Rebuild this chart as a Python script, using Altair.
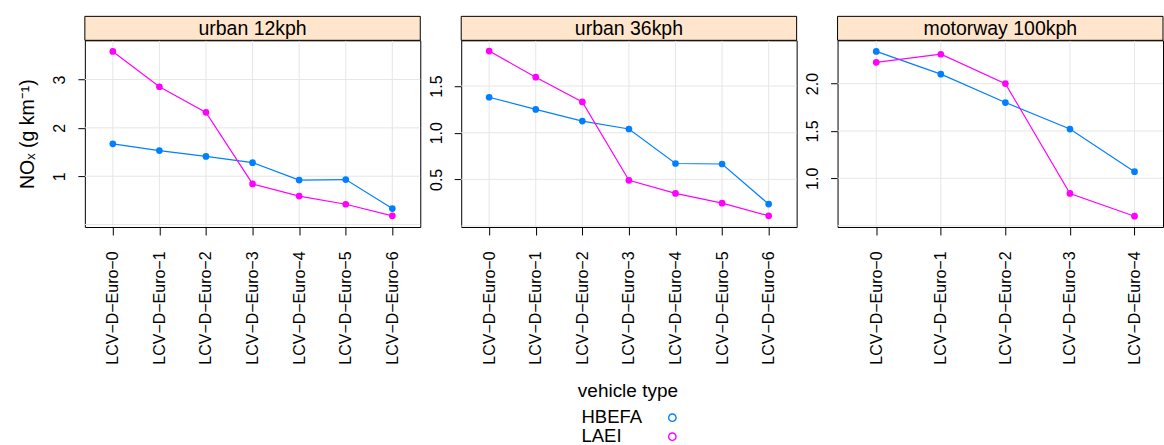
import altair as alt
import pandas as pd

# Emission categories (x axis) and series
CATS_URBAN = ["LCV−D−Euro−0", "LCV−D−Euro−1", "LCV−D−Euro−2", "LCV−D−Euro−3",
              "LCV−D−Euro−4", "LCV−D−Euro−5", "LCV−D−Euro−6"]
CATS_MOTORWAY = ["LCV−D−Euro−0", "LCV−D−Euro−1", "LCV−D−Euro−2", "LCV−D−Euro−3",
                 "LCV−D−Euro−4"]
SERIES = ["HBEFA", "LAEI"]
COLORS = ["#0080ff", "#ff00ff"]

# NOx emission factors, g/km
hbefa_12 = [1.67, 1.53, 1.41, 1.28, 0.92, 0.93, 0.33]
laei_12 = [3.58, 2.85, 2.32, 0.84, 0.59, 0.42, 0.18]
hbefa_36 = [1.38, 1.25, 1.125, 1.04, 0.67, 0.665, 0.235]
laei_36 = [1.875, 1.595, 1.33, 0.49, 0.35, 0.245, 0.11]
hbefa_100 = [2.34, 2.10, 1.80, 1.52, 1.07]
laei_100 = [2.225, 2.31, 2.00, 0.84, 0.60]

PANEL_TITLES = ["urban 12kph", "urban 36kph", "motorway 100kph"]
Y_TITLE = "NOₓ (g km⁻¹)"
LEGEND_TITLE = "vehicle type"

FONT = "Liberation Sans"
GRID = "#e6e6e6"
STRIP = "#ffe5cc"
H = 187
STRIP_H = 24


def panel(title, cats, hb, la, y_domain, y_ticks, y_grid, fmt, width,
          pad=0.6, align=0.5, y_title=None, legend=False):
    rows = []
    for s, vals in zip(SERIES, [hb, la]):
        for c, v in zip(cats, vals):
            rows.append({"cat": c, "series": s, "value": v})
    df = pd.DataFrame(rows)

    xscale = alt.Scale(domain=cats, type="point", padding=pad, align=align)
    yscale = alt.Scale(domain=y_domain, nice=False, zero=False)
    cscale = alt.Scale(domain=SERIES, range=COLORS)

    x_enc = alt.X("cat:N", scale=xscale, sort=cats,
                  axis=alt.Axis(title=None, labelAngle=270, tickSize=8,
                                labelPadding=16, grid=False, domain=False))
    axis_kw = dict(values=y_ticks, format=fmt, grid=False, domain=False,
                   labelAngle=270, tickSize=7, labelPadding=10,
                   labelAlign="center", labelBaseline="bottom")
    if y_title:
        y_axis = alt.Axis(title=y_title, titleFontSize=19.5,
                          titleFontWeight="normal", titlePadding=14, **axis_kw)
    else:
        y_axis = alt.Axis(title=None, **axis_kw)
    y_enc = alt.Y("value:Q", scale=yscale, axis=y_axis)

    vgrid = alt.Chart(pd.DataFrame({"cat": cats})).mark_rule(
        color=GRID, strokeWidth=1).encode(x=alt.X("cat:N", scale=xscale, sort=cats))
    hgrid = alt.Chart(pd.DataFrame({"g": y_grid})).mark_rule(
        color=GRID, strokeWidth=1).encode(y=alt.Y("g:Q", scale=yscale))

    base = alt.Chart(df).encode(
        x=x_enc, y=y_enc,
        color=alt.Color("series:N", scale=cscale, legend=None),
        detail="series:N",
    )
    lines = base.mark_line(strokeWidth=1.2)
    points = base.mark_circle(size=45, opacity=1)

    strip_df = pd.DataFrame({"label": [title]})
    strip = alt.Chart(strip_df).mark_rect(
        fill=STRIP, stroke="black", strokeWidth=1).encode(
        x=alt.value(0), x2=alt.value(width),
        y=alt.value(-STRIP_H), y2=alt.value(0))
    strip_text = alt.Chart(strip_df).mark_text(
        font=FONT, fontSize=19.5, color="black", baseline="middle").encode(
        x=alt.value(width / 2), y=alt.value(-STRIP_H / 2 + 1), text="label:N")

    layers = [vgrid, hgrid, lines, points, strip, strip_text]

    if legend:
        # key below the panels: title, then labels with open circles to the right
        leg_title = alt.Chart(pd.DataFrame({"t": [LEGEND_TITLE]})).mark_text(
            font=FONT, fontSize=19, color="black", baseline="middle").encode(
            x=alt.value(167), y=alt.value(351), text="t:N")
        layers.append(leg_title)
        for i, (s, col) in enumerate(zip(SERIES, COLORS)):
            sdf = pd.DataFrame({"series": [s]})
            layers.append(alt.Chart(sdf).mark_text(
                font=FONT, fontSize=18.5, color="black", align="left",
                baseline="middle").encode(
                x=alt.value(120.5), y=alt.value(377 + i * 19), text="series:N"))
            layers.append(alt.Chart(sdf).mark_point(
                shape="circle", filled=False, size=55, strokeWidth=1.4,
                color=col, opacity=1).encode(
                x=alt.value(211.5), y=alt.value(378 + i * 19)))

    return alt.layer(*layers).properties(width=width, height=H)


p1 = panel(PANEL_TITLES[0], CATS_URBAN, hbefa_12, laei_12,
           [-0.05, 3.81], [1, 2, 3], [0, 1, 2, 3], "d", 336, y_title=Y_TITLE)
p2 = panel(PANEL_TITLES[1], CATS_URBAN, hbefa_36, laei_36,
           [-0.01, 1.99], [0.5, 1.0, 1.5], [0, 0.5, 1.0, 1.5], ".1f", 336,
           legend=True)
p3 = panel(PANEL_TITLES[2], CATS_MOTORWAY, hbefa_100, laei_100,
           [0.486, 2.457], [1.0, 1.5, 2.0], [0.5, 1.0, 1.5, 2.0], ".1f", 326,
           pad=0.52, align=0.576)

chart = alt.hconcat(p1, p2, p3, spacing=41, bounds="flush").properties(
    padding={"left": 17, "top": 15, "right": 0, "bottom": 0}
).configure_view(
    stroke="black", strokeWidth=1
).configure_axis(
    labelFont=FONT, titleFont=FONT, labelFontSize=16, labelColor="black",
    tickColor="black", titleColor="black"
)

chart.save("out.html", embed_options={"renderer": "svg", "actions": False})
